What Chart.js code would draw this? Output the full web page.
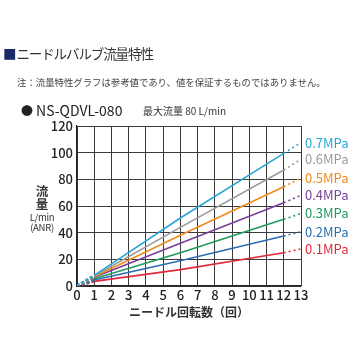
<!DOCTYPE html>
<html>
<head>
<meta charset="utf-8">
<script src="https://cdn.jsdelivr.net/npm/chart.js@4.4.1/dist/chart.umd.min.js"></script>
<style>
  html, body { margin: 0; padding: 0; background: #fff; }
  #wrap { position: relative; width: 350px; height: 350px; overflow: hidden;
          font-family: "Noto Sans CJK JP", "Noto Sans", sans-serif; color: #333; }
  #wrap canvas { position: absolute; left: 0; top: 0; }
  .t { position: absolute; white-space: nowrap; line-height: 1; }
  #head { left: 3px; top: 47px; font-size: 13.5px; color: #333; letter-spacing: -1.1px; }
  #head span { color: #1b2a66; margin-right: 1px; }
  #note { left: 17px; top: 78px; font-size: 9.4px; color: #444; }
  #model { left: 21px; top: 103px; font-size: 14px; color: #222; }
  #model .dot { font-size: 12px; margin-right: 3px; }
  #maxflow { left: 143px; top: 106px; font-size: 10px; color: #333; }
  .ytitle { position: absolute; width: 40px; left: 22px; text-align: center; line-height: 1; color: #333; }
</style>
</head>
<body>
<div id="wrap">
  <canvas id="c" width="350" height="350"></canvas>
  <div class="t" id="head"><span>■</span>ニードルバルブ流量特性</div>
  <div class="t" id="note">注：流量特性グラフは参考値であり、値を保証するものではありません。</div>
  <div class="t" id="model"><span class="dot">●</span>NS-QDVL-080</div>
  <div class="t" id="maxflow">最大流量 80 L/min</div>
  <div class="ytitle" style="top:185px;font-size:12.5px;font-weight:bold;">流</div>
  <div class="ytitle" style="top:198px;font-size:12.5px;font-weight:bold;">量</div>
  <div class="ytitle" style="top:213px;font-size:9.5px;letter-spacing:-0.3px;">L/min</div>
  <div class="ytitle" style="top:223px;font-size:9.5px;letter-spacing:-0.3px;">(ANR)</div>
</div>
<script>
// Needle turns where the curves are specified (0→1 and 12→13 are reference extensions)
const turns = [0, 1, 6, 12, 13];

// Flow rate (L/min ANR) at each turn count, per supply pressure
const flow07 = [0, 8.0, 51, 99.5, 107.5];
const flow06 = [0, 7.5, 44, 87.0, 95.0];
const flow05 = [0, 7.0, 38, 74.5, 81.0];
const flow04 = [0, 6.5, 32, 62.5, 68.0];
const flow03 = [0, 5.5, 25, 50.0, 54.5];
const flow02 = [0, 4.5, 19, 37.5, 40.7];
const flow01 = [0, 3.5, 12.3, 25.0, 27.8];

const pressureLabels = ['0.7MPa', '0.6MPa', '0.5MPa', '0.4MPa', '0.3MPa', '0.2MPa', '0.1MPa'];
const seriesColors = ['#2aa6d6', '#9b9b9b', '#ef8a1f', '#7a3f98', '#1f9a5c', '#2b6db3', '#e02a3c'];
const seriesValues = [flow07, flow06, flow05, flow04, flow03, flow02, flow01];

const yTicks = [0, 10, 20, 30, 40, 50, 60, 70, 80, 90, 100, 110, 120];
const xTicks = [0, 1, 2, 3, 4, 5, 6, 7, 8, 9, 10, 11, 12, 13];

const FONT = '"Noto Sans CJK JP", "Noto Sans", sans-serif';

const datasets = seriesValues.map((vals, i) => ({
  label: pressureLabels[i],
  data: turns.map((t, k) => ({ x: t, y: vals[k] })),
  borderColor: seriesColors[i],
  backgroundColor: seriesColors[i],
  borderWidth: 1.6,
  pointRadius: 0,
  tension: 0,
  segment: {
    borderDash: ctx => {
      if (ctx.p0DataIndex === 0) return [3, 2];
      if (ctx.p1DataIndex === turns.length - 1) return [2, 3];
      return undefined;
    },
    borderWidth: ctx => (ctx.p0DataIndex === 0 ? 2.6 : 1.6)
  }
}));

// Pressure label at the end of each extended curve
const endLabels = {
  id: 'endLabels',
  afterDatasetsDraw(chart) {
    const ctx = chart.ctx;
    ctx.save();
    ctx.font = '13px ' + FONT;
    ctx.textBaseline = 'middle';
    ctx.textAlign = 'left';
    chart.data.datasets.forEach((ds, i) => {
      const pts = chart.getDatasetMeta(i).data;
      const p = pts[pts.length - 1];
      ctx.fillStyle = ds.borderColor;
      ctx.fillText(ds.label, p.x + 4, p.y);
    });
    ctx.restore();
  }
};

new Chart(document.getElementById('c'), {
  type: 'line',
  data: { datasets },
  options: {
    responsive: false,
    animation: false,
    layout: { padding: { left: 0, right: 49, top: 126, bottom: 30 } },
    plugins: { legend: { display: false }, tooltip: { enabled: false } },
    scales: {
      x: {
        type: 'linear',
        min: 0, max: 13,
        afterBuildTicks: s => { s.ticks = xTicks.map(v => ({ value: v })); },
        afterFit: s => { s.height = 34; },
        grid: { color: '#3a3a3a', lineWidth: 1, drawTicks: false },
        border: { color: '#222', width: 1.2 },
        ticks: { color: '#222', font: { size: 13, family: FONT, weight: '500' }, padding: 1, maxRotation: 0, autoSkip: false },
        title: {
          display: true,
          text: 'ニードル回転数（回）',
          color: '#333',
          font: { size: 12, family: FONT, weight: 'bold' },
          padding: { top: 0, bottom: 0 }
        }
      },
      y: {
        min: 0, max: 120,
        afterBuildTicks: s => { s.ticks = yTicks.map(v => ({ value: v })); },
        afterFit: s => { s.width = 77; },
        grid: { color: '#3a3a3a', lineWidth: 1, drawTicks: false },
        border: { color: '#222', width: 1.2 },
        ticks: { color: '#222', font: { size: 13, family: FONT, weight: '500' }, padding: 4 }
      }
    }
  },
  plugins: [endLabels]
});
</script>
</body>
</html>
